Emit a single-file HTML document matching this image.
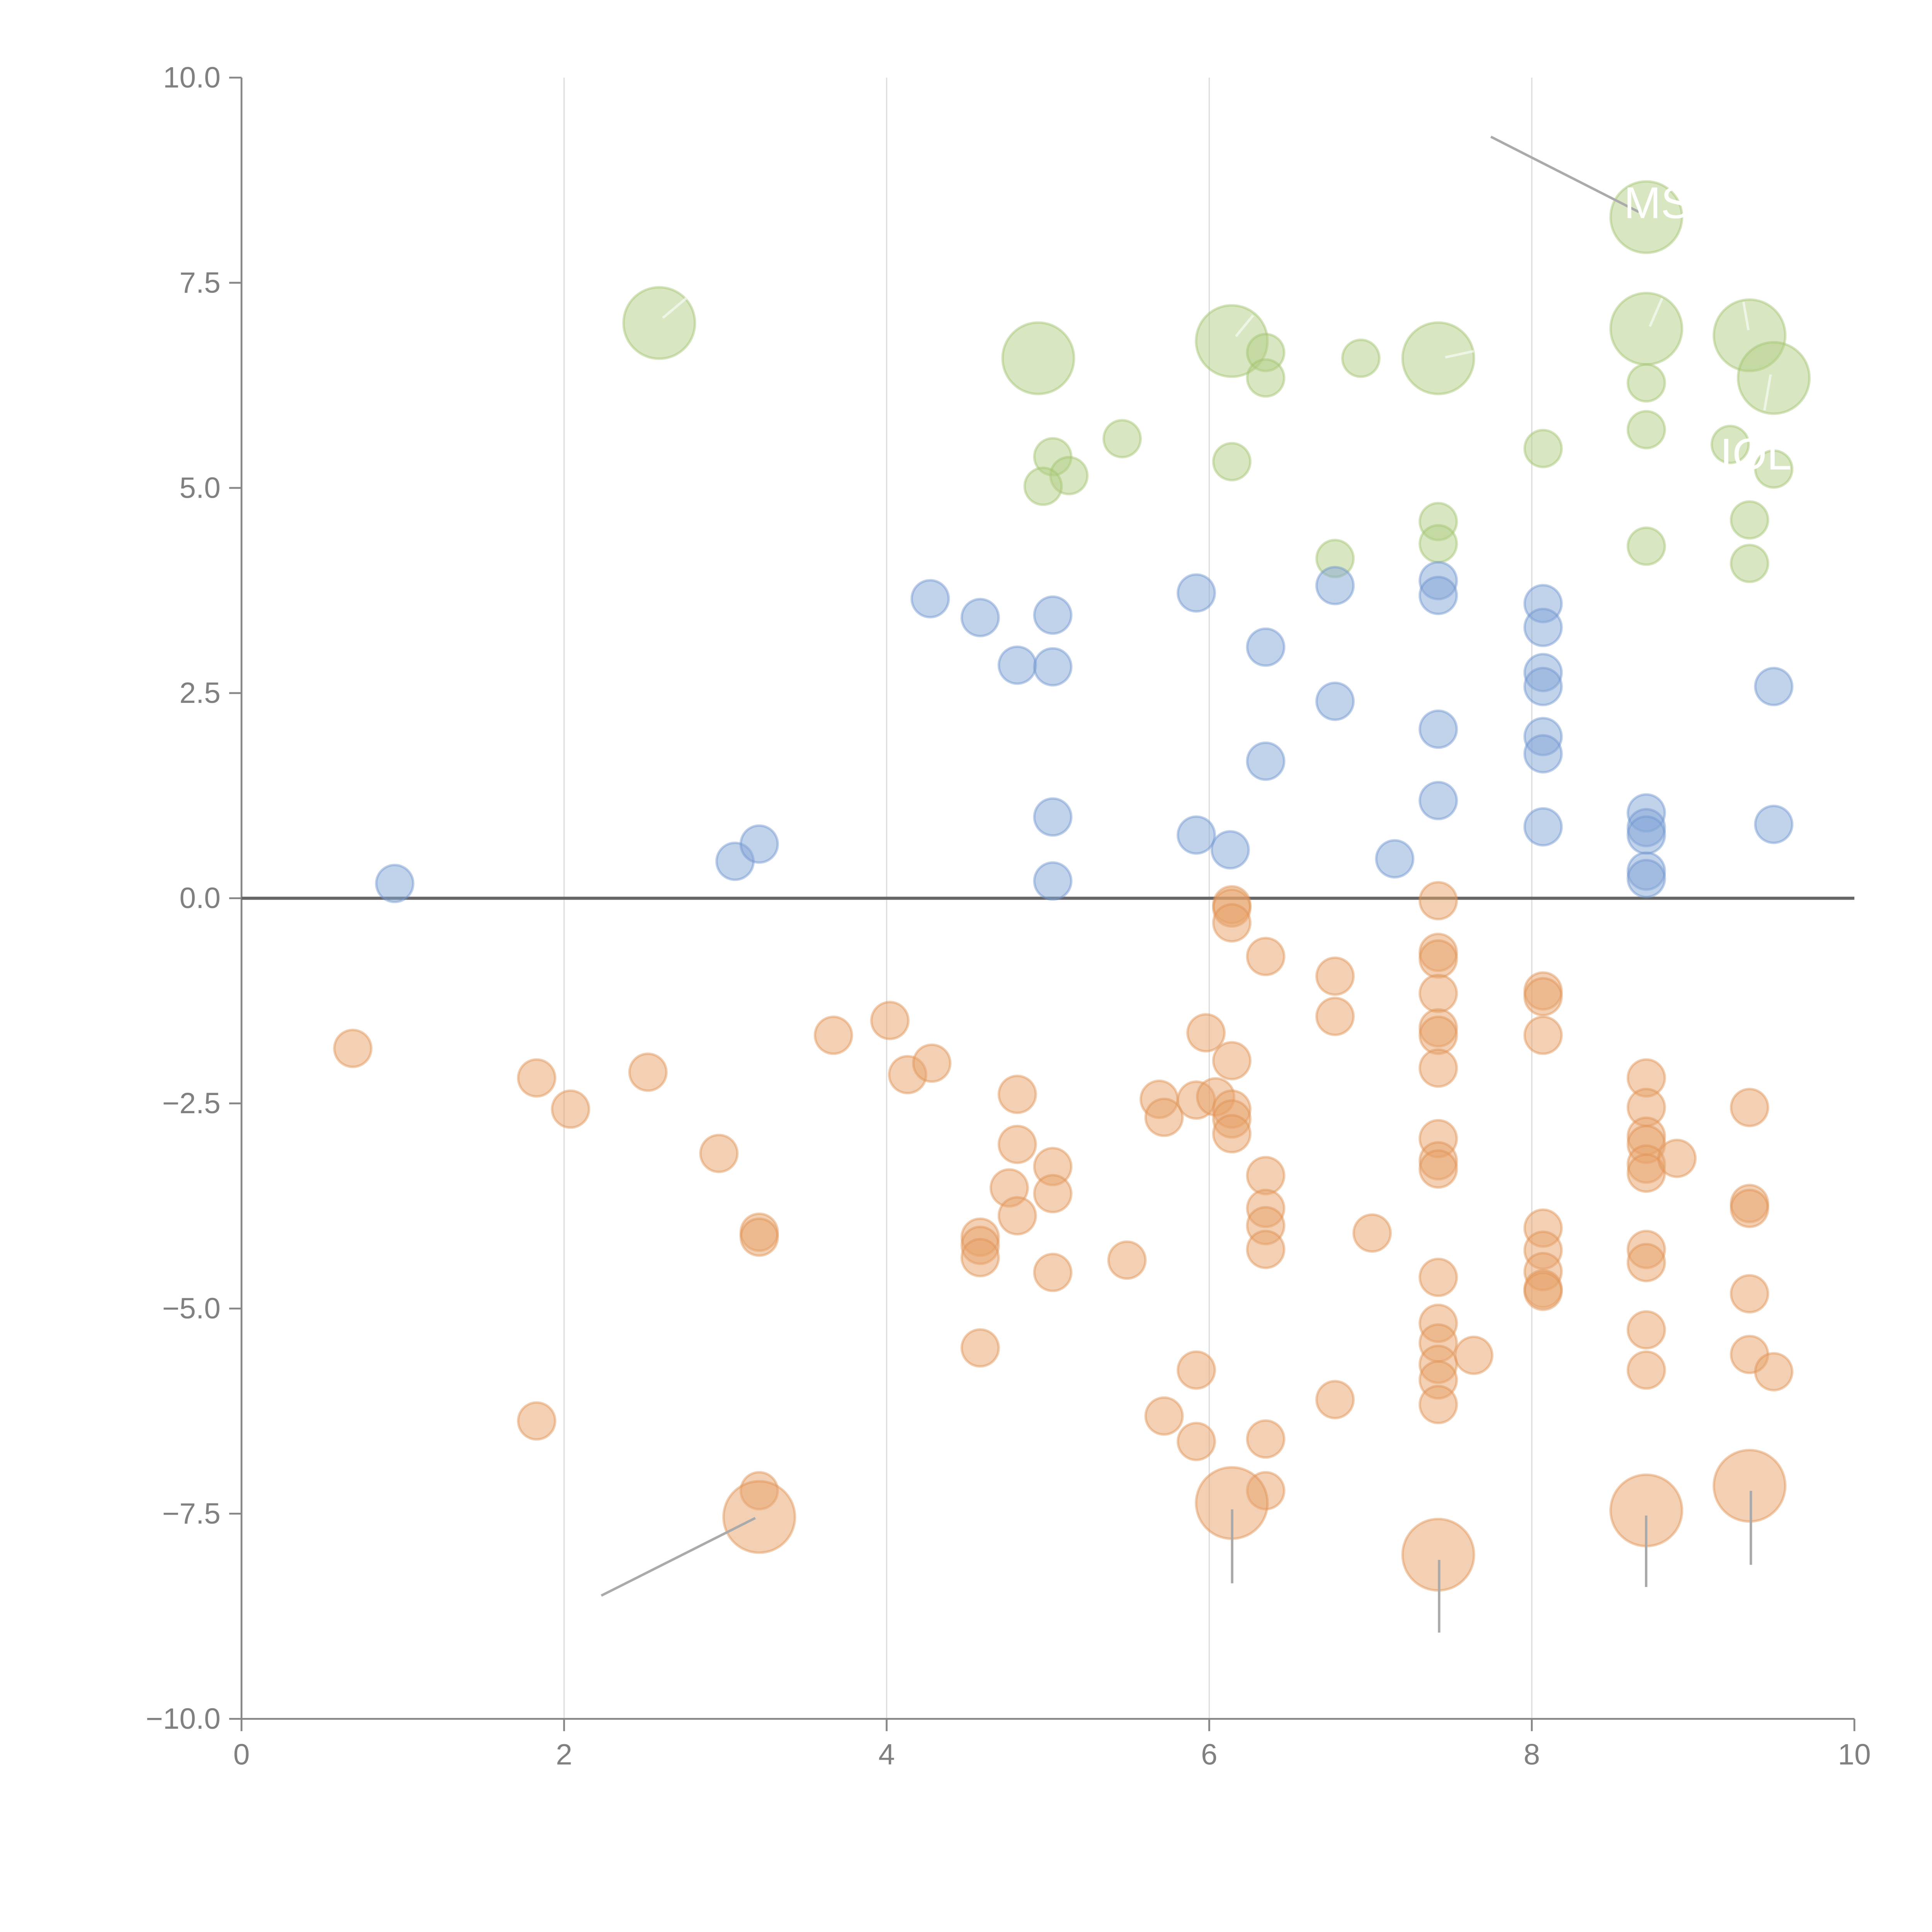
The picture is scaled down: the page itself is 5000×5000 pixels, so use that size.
<!DOCTYPE html>
<html><head><meta charset="utf-8"><style>html,body{margin:0;padding:0;background:#fff}svg{display:block}</style></head>
<body>
<svg id="chart" width="5000" height="5000" viewBox="0 0 1568 1568" xmlns="http://www.w3.org/2000/svg" font-family="Liberation Sans, sans-serif">
<g id="grid"></g>
<g id="axes"></g>
<g id="marks"></g>
<g id="ann"></g>
</svg>
<script>
const xTicks=[0,2,4,6,8,10];
const yTicks=[-10,-7.5,-5,-2.5,0,2.5,5,7.5,10];
const greenSmallX=[6.35,6.35,6.94,5.46,5.03,5.13,4.97,6.14,8.71,8.71,8.07,9.23,9.5,6.78,7.42,7.42,8.71,9.35,9.35];
const greenSmallY=[6.65,6.34,6.58,5.6,5.38,5.15,5.02,5.32,6.28,5.71,5.48,5.53,5.23,4.14,4.59,4.32,4.29,4.61,4.08];
const greenBigX=[2.59,4.94,6.14,7.42,8.71,8.71,9.35,9.5];
const greenBigY=[7.01,6.58,6.79,6.58,8.3,6.94,6.86,6.34];
const blueX=[0.95,3.06,3.21,4.27,4.58,4.81,5.03,5.03,5.03,5.03,5.92,5.92,6.13,6.35,6.35,6.78,6.78,7.15,7.42,7.42,7.42,7.42,8.07,8.07,8.07,8.07,8.07,8.07,8.07,8.71,8.71,8.71,8.71,8.71,9.5,9.5];
const blueY=[0.18,0.45,0.66,3.65,3.42,2.84,3.45,2.82,0.99,0.21,3.72,0.77,0.59,3.06,1.67,3.81,2.4,0.48,3.87,3.69,2.06,1.19,3.59,3.3,2.75,2.58,1.97,1.76,0.87,1.04,0.86,0.77,0.33,0.24,2.58,0.9];
const orangeX=[0.69,1.83,2.04,2.52,2.96,3.21,3.21,3.21,1.83,3.67,4.02,4.13,4.28,4.81,4.81,4.76,4.81,5.03,5.03,5.03,4.58,4.58,4.58,4.58,5.49,5.69,5.72,5.92,6.04,5.98,6.14,6.14,6.14,6.14,6.14,6.14,6.14,5.92,5.72,5.92,6.35,6.35,6.35,6.35,6.35,6.35,6.35,6.78,6.78,6.78,7.01,7.42,7.42,7.42,7.42,7.42,7.42,7.42,7.42,7.42,7.42,7.42,7.42,7.42,7.42,7.42,7.42,7.64,8.07,8.07,8.07,8.07,8.07,8.07,8.07,8.07,8.71,8.71,8.71,8.71,8.71,8.71,8.9,8.71,8.71,8.71,8.71,9.35,9.35,9.35,9.35,9.35,9.5];
const orangeY=[-1.83,-2.19,-2.57,-2.12,-3.11,-4.07,-4.13,-7.22,-6.37,-1.67,-1.49,-2.15,-2.01,-2.39,-3.0,-3.53,-3.87,-3.27,-3.6,-4.56,-4.13,-4.23,-4.38,-5.48,-4.41,-2.45,-2.67,-2.46,-2.42,-1.64,-0.08,-0.12,-0.3,-1.98,-2.57,-2.69,-2.87,-5.75,-6.31,-6.62,-0.71,-3.38,-3.78,-3.99,-4.28,-6.59,-7.22,-0.95,-1.44,-6.11,-4.08,-0.03,-0.66,-0.74,-1.16,-1.58,-1.67,-2.07,-2.93,-3.2,-3.3,-4.62,-5.18,-5.42,-5.68,-5.87,-6.17,-5.57,-1.13,-1.2,-1.67,-4.02,-4.29,-4.55,-4.76,-4.79,-2.19,-2.55,-2.9,-3.0,-3.24,-3.35,-3.17,-4.28,-4.44,-5.26,-5.75,-2.55,-3.72,-3.78,-4.82,-5.56,-5.77];
const orangeBigX=[3.21,6.14,7.42,8.71,9.35];
const orangeBigY=[-7.54,-7.37,-8.0,-7.46,-7.16];

const NS='http://www.w3.org/2000/svg';
const X0=196,X1=1505,Y0=1395,Y1=63;
const sx=v=>X0+(v-0)/(10-0)*(X1-X0);
const sy=v=>Y0-(v+10)/20*(Y0-Y1);
function mk(tag,attrs,parent){const e=document.createElementNS(NS,tag);for(const k in attrs)e.setAttribute(k,attrs[k]);parent.appendChild(e);return e;}
const grid=document.getElementById('grid'),axes=document.getElementById('axes'),marks=document.getElementById('marks'),ann=document.getElementById('ann');

xTicks.forEach(t=>{
  if(t>0&&t<10){const g=mk('line',{x1:sx(t),x2:sx(t),y1:Y1,y2:Y0,stroke:'#ddd','stroke-width':1},grid);
  
  }
  const tk=mk('line',{x1:sx(t),x2:sx(t),y1:Y0,y2:Y0+10,stroke:'#888','stroke-width':1.5},axes);
  
  
  const tx=mk('text',{x:sx(t),y:Y0+37,'text-anchor':'middle','font-size':24,fill:'#808080'},axes);
  tx.textContent=String(t);
  
  
});
yTicks.forEach(t=>{
  const tk=mk('line',{x1:X0-10,x2:X0,y1:sy(t),y2:sy(t),stroke:'#888','stroke-width':1.5},axes);
  
  
  const tx=mk('text',{x:X0-17,y:sy(t)+8,'text-anchor':'end','font-size':24,fill:'#808080'},axes);
  tx.textContent=(t<0?'\u2212':'')+Math.abs(t).toFixed(1);
  
  
});
const xa=mk('line',{x1:X0,x2:X1,y1:Y0,y2:Y0,stroke:'#888','stroke-width':1.5},axes);


const ya=mk('line',{x1:X0,x2:X0,y1:Y1,y2:Y0,stroke:'#888','stroke-width':1.5},axes);



function series(xs,ys,r,fill,stroke,name){
  xs.forEach((v,i)=>{
    const c=mk('circle',{cx:sx(v),cy:sy(ys[i]),r:r,fill:fill,'fill-opacity':0.5,stroke:stroke,'stroke-opacity':0.45,'stroke-width':2},marks);
    
    
  });
}
series(greenBigX,greenBigY,29,'#b1cd83','#a2c46e','green-big-bubble');
series(greenSmallX,greenSmallY,15,'#b1cd83','#a2c46e','green-bubble');
series(blueX,blueY,15,'#84a6d8','#6f95cf','blue-bubble');
series(orangeX,orangeY,15,'#e8a26a','#df9254','orange-bubble');
series(orangeBigX,orangeBigY,29,'#e8a26a','#df9254','orange-big-bubble');

const zl=mk('line',{x1:X0,x2:X1,y1:sy(0),y2:sy(0),stroke:'#666','stroke-width':2.5},axes);



const leaders=[[488,1295,613,1232],[1000,1225,1000,1285],[1168,1266,1168,1325],[1336,1230,1336,1288],[1421,1210,1421,1270],[1210,111,1330,172]];
leaders.forEach(l=>{const e=mk('line',{x1:l[0],y1:l[1],x2:l[2],y2:l[3],stroke:'#aaa','stroke-width':2},ann);

});
const wl=[[538,258,557,242],[1003,273,1017,256],[1173,290,1196,285],[1339,265,1349,242],[1419,268,1415,245],[1437,304,1432,333]];
wl.forEach(l=>{const e=mk('line',{x1:l[0],y1:l[1],x2:l[2],y2:l[3],stroke:'#fff','stroke-opacity':0.6,'stroke-width':2},ann);

});
const t1=mk('text',{x:1318,y:177,'font-size':36,fill:'#fff'},ann);t1.textContent='MS';


const t2=mk('text',{x:1396,y:381,'font-size':36,fill:'#fff'},ann);t2.textContent='IOL';


</script>
</body></html>
